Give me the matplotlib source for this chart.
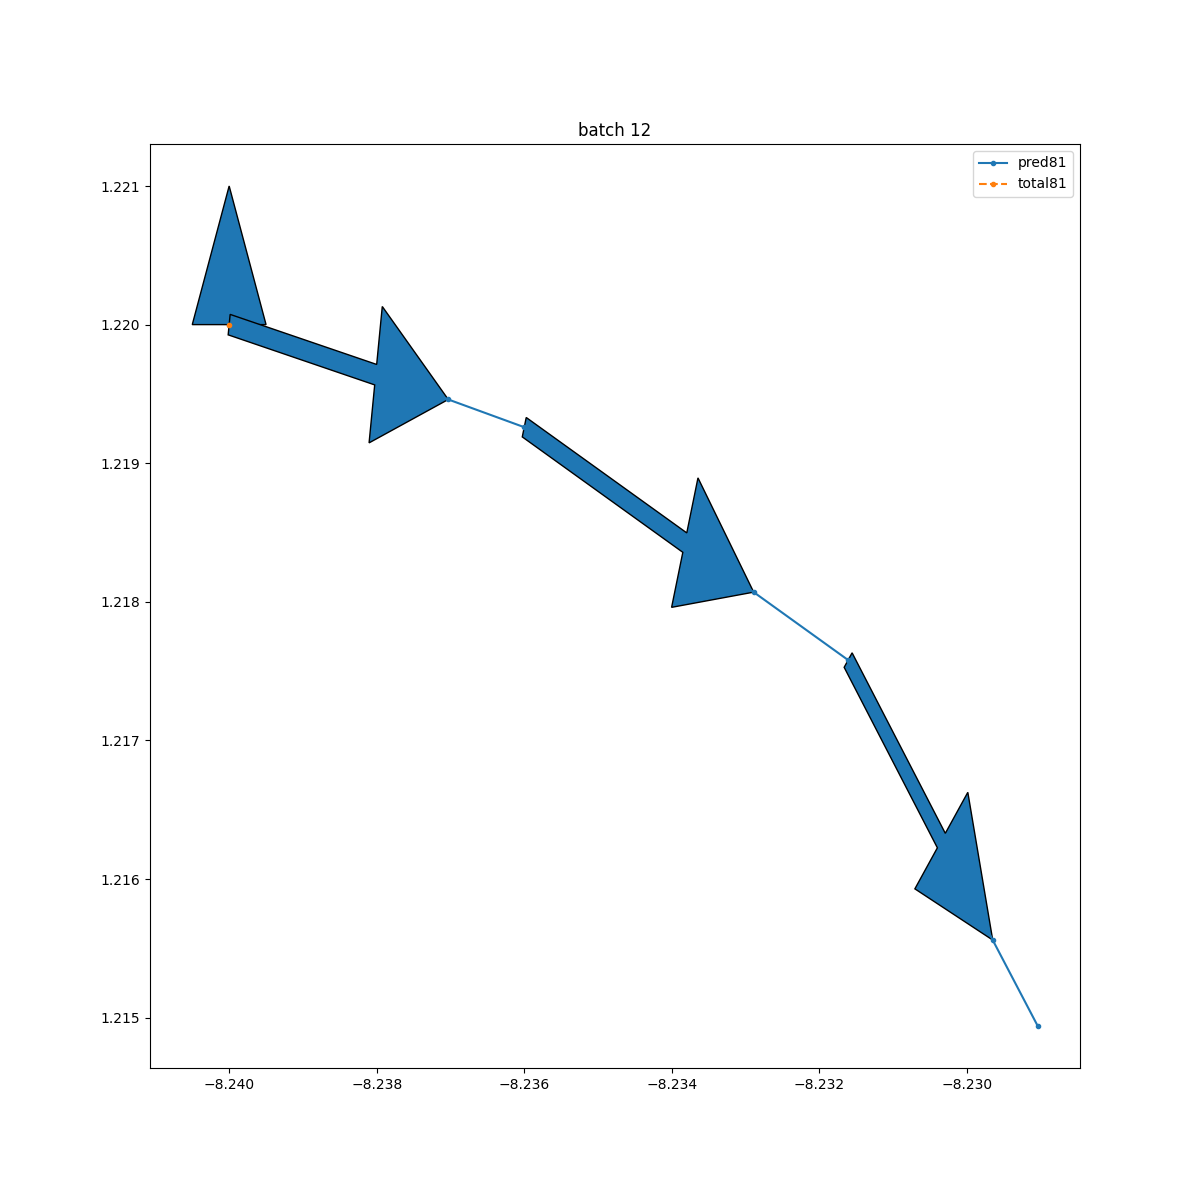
import matplotlib
matplotlib.use('Agg')
import matplotlib.pyplot as plt

pred_x = [-8.2400, -8.23703, -8.23600, -8.23289, -8.23161, -8.22965, -8.22904]
pred_y = [1.2200, 1.21946, 1.21926, 1.21807, 1.21758, 1.21556, 1.21494]
total_x = [-8.2400]
total_y = [1.2200]

plt.figure(figsize=(12, 12))
plt.plot(pred_x, pred_y, marker='.', label='pred81')
plt.plot(total_x, total_y, marker='.', linestyle='--', label='total81')

# small upward arrow at start
plt.arrow(pred_x[0], pred_y[0], 0, 1e-7, width=0.00015, head_width=0.001,
          head_length=0.001, fc='C0', ec='black')

for i in (0, 2, 4):
  plt.arrow(pred_x[i], pred_y[i], pred_x[i + 1] - pred_x[i], pred_y[i + 1] - pred_y[i],
            width=0.00015, head_width=0.001, head_length=0.001,
            length_includes_head=True, fc='C0', ec='black')

plt.title('batch 12')
plt.legend()
plt.savefig('out.png')
